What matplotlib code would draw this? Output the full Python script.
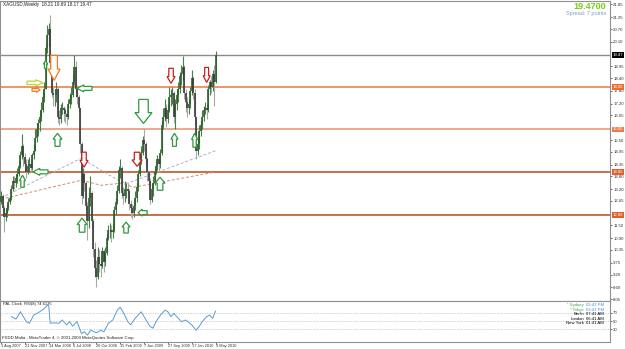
import numpy as np
import matplotlib.pyplot as plt
from matplotlib.patches import Polygon
from matplotlib.transforms import ScaledTranslation

plt.rcParams['font.family'] = ['Liberation Sans', 'DejaVu Sans']

# weekly XAGUSD bars, 1 Aug 2007 .. 9 May 2010
closes = [12.9, 12.3, 11.9, 12.1, 12.3, 12.6, 12.8, 13.2, 13.6, 13.5,
          13.7, 13.9, 14.3, 14.8, 15.2, 14.7, 14.4, 14.0, 14.3, 14.4,
          14.2, 14.8, 15.0, 15.6, 16.0, 16.3, 16.6, 16.9, 17.5, 17.9,
          19.8, 20.4, 20.7, 19.1, 17.7, 17.6, 17.6, 17.9, 16.6, 16.5,
          17.0, 17.0, 16.9, 16.7, 16.6, 17.2, 17.4, 17.6, 18.2, 18.9,
          17.9, 17.5, 17.0, 15.3, 12.9, 13.9, 13.5, 12.4, 11.7, 12.8,
          13.0, 11.7, 10.4, 9.5, 9.1, 10.0, 9.7, 9.6, 10.3, 9.8,
          10.2, 10.9, 11.3, 11.3, 11.2, 11.3, 12.2, 12.6, 13.1, 14.1,
          14.2, 13.0, 12.9, 13.2, 13.2, 13.1, 12.5, 12.3, 12.1, 12.4,
          12.8, 13.3, 13.9, 14.6, 14.9, 15.5, 15.3, 14.6, 14.0, 13.6,
          12.7, 13.2, 13.5, 14.0, 14.3, 14.6, 14.4, 14.9, 16.2, 16.6,
          17.0, 16.5, 16.9, 17.5, 17.6, 17.7, 16.6, 17.2, 17.6, 17.9,
          18.5, 18.6, 18.9, 17.7, 17.3, 17.0, 17.2, 17.8, 18.4, 17.7,
          16.6, 15.0, 15.3, 15.9, 16.2, 16.6, 16.9, 17.0, 16.9, 17.9,
          18.2, 18.0, 18.6, 18.2, 19.47]
highs = [13.1, 12.95, 12.4, 12.3, 12.5, 12.8, 12.9, 13.4, 13.8, 13.8,
         13.9, 14.2, 14.5, 15.0, 15.8, 15.3, 14.9, 14.6, 14.6, 14.7,
         14.6, 14.9, 15.3, 16.0, 16.3, 16.5, 16.9, 17.3, 17.8, 18.2,
         20.0, 20.9, 21.0, 21.35, 19.2, 18.0, 17.9, 18.2, 18.0, 16.9,
         17.2, 17.3, 17.1, 17.0, 16.9, 17.4, 17.7, 18.0, 18.6, 19.5,
         19.2, 18.1, 17.6, 17.0, 15.4, 14.2, 14.0, 13.6, 12.6, 13.3,
         13.8, 13.1, 11.8, 10.7, 9.9, 10.5, 10.4, 10.0, 10.5, 10.4,
         10.5, 11.1, 11.5, 11.6, 11.5, 11.6, 12.4, 12.8, 13.4, 14.3,
         14.6, 14.3, 13.3, 13.6, 13.5, 13.5, 13.2, 12.7, 12.5, 12.7,
         13.1, 13.5, 14.1, 14.8, 15.2, 15.7, 16.0, 15.4, 14.7, 14.1,
         13.7, 13.5, 13.8, 14.2, 14.5, 14.8, 14.8, 15.1, 16.4, 17.0,
         17.4, 17.2, 17.2, 18.0, 17.9, 18.0, 17.8, 17.4, 17.9, 18.2,
         18.7, 19.0, 19.45, 19.0, 17.9, 17.5, 17.4, 18.0, 18.8, 18.5,
         17.9, 16.5, 15.7, 16.2, 16.4, 16.9, 17.1, 17.3, 17.2, 18.1,
         18.3, 18.5, 18.8, 19.0, 19.69]
lows = [12.5, 12.1, 11.2, 11.7, 11.9, 12.2, 12.5, 12.7, 13.1, 13.2,
        13.3, 13.5, 13.8, 14.2, 14.6, 14.3, 14.0, 13.7, 13.9, 14.0,
        14.0, 14.1, 14.6, 15.0, 15.4, 15.7, 15.9, 16.4, 16.8, 17.3,
        17.9, 19.6, 19.9, 18.8, 17.5, 17.1, 17.1, 17.3, 16.3, 16.2,
        16.3, 16.7, 16.4, 16.3, 16.2, 16.5, 17.0, 17.2, 17.5, 18.1,
        17.5, 17.2, 16.8, 14.9, 12.5, 12.8, 13.1, 12.2, 10.8, 11.4,
        12.4, 11.4, 10.0, 9.1, 8.6, 9.0, 9.3, 9.1, 9.5, 9.3,
        9.6, 10.1, 10.8, 10.9, 10.7, 10.9, 11.2, 12.0, 12.5, 13.0,
        13.7, 12.8, 12.5, 12.6, 12.8, 12.6, 12.2, 11.9, 11.8, 11.9,
        12.2, 12.6, 13.1, 13.8, 14.4, 14.8, 15.0, 14.3, 13.6, 13.3,
        12.5, 12.6, 12.9, 13.4, 13.9, 14.1, 14.0, 14.2, 14.8, 16.0,
        16.4, 16.1, 16.3, 16.8, 17.1, 17.2, 16.3, 16.0, 16.9, 17.3,
        17.7, 18.1, 18.3, 17.4, 16.8, 16.6, 16.7, 17.0, 17.6, 17.4,
        16.2, 14.6, 14.8, 15.1, 15.7, 16.0, 16.4, 16.7, 16.5, 16.8,
        17.6, 17.7, 17.8, 17.1, 18.17]
opens = [12.6] + closes[:-1]
opens[-1] = 18.21

# moving averages (dashed), vertices
ma_fast_bars = [0, 20, 54, 67, 81, 85, 144]
ma_fast = [12.78, 13.48, 14.65, 14.09, 13.52, 13.48, 15.0]
ma_slow_bars = [0, 54, 67, 81, 89, 143]
ma_slow = [12.73, 13.62, 13.38, 13.48, 13.29, 13.99]

# RSI(8) pane
rsi_bars = [7, 10, 13, 17, 19, 22, 26, 29, 31, 32, 33, 36, 39, 41, 44, 46, 48,
            51, 54, 56, 58, 60, 64, 67, 69, 72, 75, 78, 80, 83, 85, 87, 90, 92,
            94, 96, 100, 102, 104, 107, 110, 112, 114, 116, 119, 121, 124, 128,
            131, 133, 135, 138, 140, 142, 144]
rsi = [61, 55, 73, 49, 45, 65, 73, 81, 89, 88, 45, 46, 45, 53, 41, 49, 38,
       49, 20, 24, 16, 28, 22, 28, 24, 45, 53, 77, 84, 65, 49, 41, 57, 65,
       73, 61, 37, 33, 49, 65, 77, 73, 61, 69, 57, 49, 53, 41, 28, 37, 49,
       61, 65, 57, 74.6]
rsi_levels = [70, 50, 30]

# horizontal levels
level_prices = [18.0, 16.0, 14.0, 12.0]
level_colors = ['#f08a5c', '#eba183', '#c4643c', '#c4643c']
level_label_bg = ['#f06a30', '#f07a44', '#e0602a', '#e0602a']
last_price = 19.47

# price scale labels (the ones hidden under the boxed labels are left out)
price_ticks = [21.85, 21.25, 20.70, 20.10, 18.95, 18.40, 17.80, 17.20,
               16.65, 15.50, 14.95, 14.35, 13.80, 13.20, 12.65,
               11.50, 10.90, 10.35, 9.75, 9.20, 8.60, 8.05]
date_bars = [0, 16, 32, 48, 64, 80, 96, 112, 128, 144]
date_labels = ['1 Aug 2007', '21 Nov 2007', '14 Mar 2008', '6 Jul 2008',
               '26 Oct 2008', '15 Feb 2009', '7 Jun 2009', '27 Sep 2009',
               '17 Jan 2010', '9 May 2010']

# signal arrows: bar, price, direction, colour, length px, width px
arrows = [
    (35.6, 18.88, 'down', '#f07a20', 25, 12),
    (29.9, 19.04, 'up', '#2e9a3a', 8, 4),
    (22.8, 18.18, 'right', '#b8d830', 16, 6),
    (23.5, 17.85, 'right', '#f07a20', 8, 5),
    (56.0, 17.92, 'left', '#2e9a3a', 15, 7),
    (37.9, 15.51, 'up', '#2e9a3a', 13, 9),
    (26.5, 14.01, 'left', '#2e9a3a', 15, 7),
    (14.4, 13.57, 'up', '#2e9a3a', 12, 6),
    (55.7, 14.58, 'down', '#c81e1e', 15, 8),
    (54.4, 11.51, 'up', '#2e9a3a', 14, 10),
    (95.6, 16.84, 'down', '#2e9a3a', 24, 17),
    (91.3, 14.60, 'down', '#c81e1e', 14, 10),
    (114.1, 18.51, 'down', '#c81e1e', 15, 8),
    (138.0, 18.55, 'down', '#c81e1e', 15, 7),
    (116.4, 15.51, 'up', '#2e9a3a', 13, 7),
    (129.9, 15.49, 'up', '#2e9a3a', 14, 6),
    (106.7, 13.45, 'up', '#2e9a3a', 13, 10),
    (95.0, 12.10, 'left', '#2e9a3a', 9, 7),
    (83.9, 11.40, 'up', '#2e9a3a', 11, 8),
]

W, H = 625, 349
fig = plt.figure(figsize=(W / 100, H / 100), dpi=100)
fig.patch.set_facecolor('white')


def fx(px):
    return px / W


def fy(py):
    return 1 - py / H


ax = fig.add_axes([fx(0), fy(300.7), fx(610), (300.7 - 0.5) / H])
ax_rsi = fig.add_axes([fx(0), fy(341.7), fx(610), 41 / H], sharex=ax)

for a in (ax, ax_rsi):
    for sp in a.spines.values():
        sp.set_color('#909090')
        sp.set_linewidth(0.8)
    a.set_facecolor('white')

ax.set_xlim(-0.7, 408.7)
ax.set_ylim(7.973, 22.037)

# horizontal lines
ax.axhline(last_price, color='#8a8a8a', lw=1.0, zorder=1)
for p, col in zip(level_prices, level_colors):
    ax.axhline(p, color=col, lw=1.3, zorder=1)

# moving averages
ax.plot(ma_fast_bars, ma_fast, color='#b4aacb', lw=0.7, ls=(0, (3, 2)), zorder=2)
ax.plot(ma_slow_bars, ma_slow, color='#d88a68', lw=0.7, ls=(0, (3, 2)), zorder=2)

# candles
bars = np.arange(len(closes))
o = np.array(opens)
c = np.array(closes)
hi = np.array(highs)
lo = np.array(lows)
up = c >= o
ax.vlines(bars[up], lo[up], hi[up], color='#4a7f4a', lw=0.8, zorder=3)
ax.vlines(bars[~up], lo[~up], hi[~up], color='#a8a8a8', lw=0.8, zorder=3)
ax.vlines(bars[up], o[up], c[up], color='#2f5f2f', lw=1.2, zorder=4)
ax.vlines(bars[~up], c[~up], o[~up], color='#3a3a3a', lw=1.2, zorder=4)

# block arrows drawn in pixel size at data positions
rot = {'down': 0, 'up': 180, 'right': 90, 'left': -90}
for b, p, d, col, L, Wd in arrows:
    L, Wd = L / 100, Wd / 100
    s, h, hl = Wd * 0.28, Wd / 2, L * 0.45
    pts = np.array([(-s, L / 2), (s, L / 2), (s, -L / 2 + hl), (h, -L / 2 + hl),
                    (0, -L / 2), (-h, -L / 2 + hl), (-s, -L / 2 + hl)])
    t = np.deg2rad(rot[d])
    R = np.array([[np.cos(t), -np.sin(t)], [np.sin(t), np.cos(t)]])
    pts = pts @ R.T
    tr = fig.dpi_scale_trans + ScaledTranslation(b, p, ax.transData)
    ax.add_patch(Polygon(pts, closed=True, transform=tr, facecolor='white',
                         edgecolor=col, lw=0.9, zorder=6))

# price axis on the right
ax.yaxis.tick_right()
ax.set_yticks(price_ticks)
ax.set_yticklabels(['%.2f' % v for v in price_ticks])
ax.tick_params(axis='y', labelsize=3.1, length=1.5, width=0.5, colors='#303030', pad=0.8)
ax.tick_params(axis='x', bottom=False, labelbottom=False)

# boxed level labels on the price axis
box_x = 1.0 + 2.5 / 610
ax.text(box_x, last_price, '%.2f' % last_price, transform=ax.get_yaxis_transform(),
        fontsize=3.1, color='white', va='center', ha='left', zorder=10, clip_on=False,
        bbox=dict(boxstyle='square,pad=0.2', fc='black', ec='black', lw=0))
for p, bg in zip(level_prices, level_label_bg):
    ax.text(box_x, p, '%.2f' % p, transform=ax.get_yaxis_transform(),
            fontsize=3.1, color='white', va='center', ha='left', zorder=10, clip_on=False,
            bbox=dict(boxstyle='square,pad=0.2', fc=bg, ec=bg, lw=0))

# RSI pane
ax_rsi.set_ylim(0, 100)
for lv in rsi_levels:
    ax_rsi.axhline(lv, color='#a8a8a8', lw=0.5, ls=(0, (1, 1.5)))
ax_rsi.plot(rsi_bars, rsi, color='#5b9bd5', lw=0.7)
ax_rsi.yaxis.tick_right()
ax_rsi.set_yticks(rsi_levels)
ax_rsi.set_yticklabels([str(v) for v in rsi_levels])
ax_rsi.tick_params(axis='y', labelsize=3.1, length=1.5, width=0.5, colors='#303030', pad=0.8)
ax_rsi.set_xticks(date_bars)
ax_rsi.set_xticklabels(date_labels, ha='left')
ax_rsi.tick_params(axis='x', labelsize=2.8, length=1.5, width=0.5, colors='#303030', pad=0.5)

ax_rsi.text(3 / 610, 0.97, 'PAL Clock', transform=ax_rsi.transAxes, fontsize=3.0,
            va='top', color='#202020')
ax_rsi.text(24 / 610, 0.97, 'RSI(8) 74.6135', transform=ax_rsi.transAxes, fontsize=3.0,
            va='top', color='#202020')
ax_rsi.text(2 / 610, 0.03, 'FXDD Malta - MetaTrader 4, \u00a9 2001-2009 MetaQuotes Software Corp.',
            transform=ax_rsi.transAxes, fontsize=3.1, va='bottom', color='#202020')

# world clock
clock_cities = ['* Sydney', '* Tokyo', 'Berlin', 'London', 'New York']
clock_times = ['03:41 PM', '03:41 PM', '07:41 AM', '06:41 AM', '01:41 AM']
city_colors = ['#3aa84a', '#3aa84a', 'black', 'black', 'black']
time_colors = ['#3c8fd8', '#3c8fd8', 'black', 'black', 'black']
for i, (cty, tm, cc, tc) in enumerate(zip(clock_cities, clock_times, city_colors, time_colors)):
    yy = 305 + i * 4.6
    fig.text(fx(584), fy(yy), cty, fontsize=3.1, color=cc, ha='right', va='center')
    fig.text(fx(586), fy(yy), tm, fontsize=3.1, color=tc, ha='left', va='center')

# header texts
fig.text(fx(3), fy(4.5), 'XAGUSD,Weekly  18.21 19.69 18.17 19.47', fontsize=3.3,
         color='#202020', ha='left', va='center')
fig.text(fx(606), fy(6.5), '19.4700', fontsize=6.5, fontweight='bold',
         color='#7acc14', ha='right', va='center')
fig.text(fx(606), fy(13.5), 'Spread: 7 points', fontsize=4, color='#7f9fbf',
         ha='right', va='center')

fig.savefig('out.png', dpi=100, facecolor='white')
